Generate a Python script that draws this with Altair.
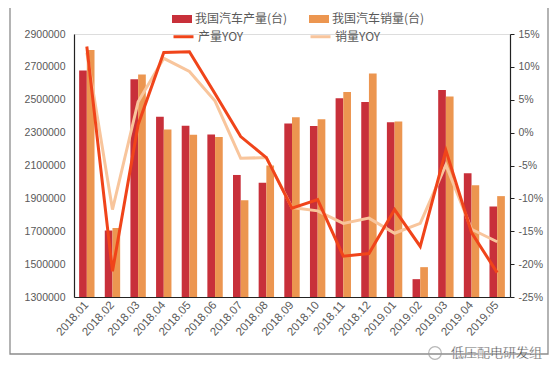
import altair as alt
import pandas as pd

months = ["2018.01", "2018.02", "2018.03", "2018.04", "2018.05", "2018.06",
          "2018.07", "2018.08", "2018.09", "2018.10", "2018.11", "2018.12",
          "2019.01", "2019.02", "2019.03", "2019.04", "2019.05"]
prod = [2677400, 1704500, 2624700, 2396600, 2342400, 2288300, 2042400, 1995600,
        2354900, 2340600, 2508700, 2486400, 2363500, 1408500, 2559200, 2052800, 1850000]
sales = [2803000, 1719800, 2653600, 2318900, 2287600, 2273900, 1888500, 2100000,
         2393800, 2381400, 2547900, 2660100, 2367300, 1481600, 2519800, 1980300, 1913700]
prod_yoy = [13.1, -21.1, 1.2, 12.2, 12.3, 5.9, -0.6, -3.8, -11.5, -10.2, -18.8,
            -18.4, -11.7, -17.3, -2.7, -15.2, -21.3]
sales_yoy = [12.2, -11.7, 4.7, 11.3, 9.3, 4.8, -3.9, -3.8, -11.4, -11.9, -13.8,
             -13.0, -15.3, -13.8, -4.9, -14.7, -16.6]

S_PROD = "我国汽车产量(台)"
S_SALES = "我国汽车销量(台)"
L_PROD = "产量YOY"
L_SALES = "销量YOY"

bar_left_ticks = list(range(1300000, 2900001, 200000))
right_ticks = list(range(-25, 16, 5))

bars_df = pd.DataFrame({
    "month": months * 2,
    "series": [S_PROD] * len(months) + [S_SALES] * len(months),
    "value": prod + sales,
})
lines_df = pd.DataFrame({
    "month": months * 2,
    "series": [L_PROD] * len(months) + [L_SALES] * len(months),
    "yoy": prod_yoy + sales_yoy,
})

FONT = "Liberation Sans"
CJK = "Noto Sans CJK SC"
GRAY = "#595959"

x_enc = alt.X(
    "month:N", sort=months,
    scale=alt.Scale(paddingInner=0.4, paddingOuter=0.2),
    axis=alt.Axis(title=None, labelAngle=-48, labelFont=FONT, labelFontSize=11.5,
                  labelColor=GRAY, ticks=False, domainColor="#222", domainWidth=1.2,
                  labelPadding=6),
)

bars = alt.Chart(bars_df).mark_bar().encode(
    x=x_enc,
    xOffset=alt.XOffset("series:N", sort=[S_PROD, S_SALES],
                        scale=alt.Scale(paddingInner=0, paddingOuter=0)),
    y=alt.Y("value:Q",
            scale=alt.Scale(domain=[1300000, 2900000], zero=False, nice=False),
            axis=alt.Axis(title=None, values=bar_left_ticks, format="d",
                          labelFont=FONT, labelFontSize=10.5, labelColor=GRAY,
                          ticks=False, domainColor="#222", domainWidth=1.2,
                          labelPadding=9, grid=False)),
    y2=alt.datum(1300000),
    color=alt.Color("series:N",
                    scale=alt.Scale(domain=[S_PROD, S_SALES], range=["#C8303A", "#EC9650"]),
                    legend=alt.Legend(title=None, orient="none", legendX=98, legendY=-25,
                                      direction="horizontal", labelFont=CJK,
                                      labelFontSize=12, labelColor=GRAY,
                                      symbolType="M-1,-0.4H1V0.4H-1Z", symbolSize=400,
                                      symbolStrokeWidth=0, labelOffset=3,
                                      columnPadding=21, padding=0)),
)

line_y = alt.Y("yoy:Q",
               scale=alt.Scale(domain=[-25, 15], nice=False, zero=False),
               axis=alt.Axis(title=None, orient="right", values=right_ticks,
                             labelExpr="datum.value + '%'",
                             labelFont=FONT, labelFontSize=10.5, labelColor=GRAY,
                             ticks=True, tickSize=4, tickColor="#222",
                             domainColor="#222", domainWidth=1.2, labelPadding=4,
                             grid=False))
stroke_enc = alt.Stroke("series:N",
                        scale=alt.Scale(domain=[L_PROD, L_SALES], range=["#F0441A", "#F8C59C"]),
                        legend=alt.Legend(title=None, orient="none", legendX=98, legendY=-9,
                                          direction="horizontal", labelFont=CJK,
                                          labelFontSize=12, labelColor=GRAY,
                                          symbolType="stroke", symbolSize=400,
                                          symbolStrokeWidth=3, labelOffset=3,
                                          columnPadding=60, padding=0))

line_sales = alt.Chart(lines_df).transform_filter(
    alt.datum.series == L_SALES
).mark_line(strokeWidth=3).encode(x=x_enc, y=line_y, stroke=stroke_enc)

line_prod = alt.Chart(lines_df).transform_filter(
    alt.datum.series == L_PROD
).mark_line(strokeWidth=3).encode(x=x_enc, y=line_y, stroke=stroke_enc)

one = pd.DataFrame({"a": [0]})
frame = alt.Chart(one).mark_rect(fill=None, stroke="#8c8c8c", strokeWidth=1.3).encode(
    x=alt.value(-64), x2=alt.value(474), y=alt.value(-28), y2=alt.value(320))

icon = alt.Chart(one).mark_point(shape="circle", filled=False, stroke="#9a9a9a",
                                 strokeWidth=1.2, size=160).encode(
    x=alt.value(361), y=alt.value(319))

mark_txt = alt.Chart(one).mark_text(align="left", baseline="middle", font=CJK,
                                    fontSize=13, color="#3a3a3a", stroke="white",
                                    strokeWidth=0.3).encode(
    x=alt.value(377), y=alt.value(319), text=alt.value("低压配电研发组"))

lines = alt.layer(line_sales, line_prod)

chart = alt.layer(frame, bars, lines, icon, mark_txt).resolve_scale(
    y="independent", color="independent", stroke="independent"
).properties(
    width=436, height=263,
    autosize=alt.AutoSizeParams(type="none"),
    padding={"left": 66, "top": 26, "right": 40, "bottom": 72},
).configure_view(stroke=None).configure(background="white")

chart.save("out.html", embed_options={"renderer": "svg", "actions": False})
